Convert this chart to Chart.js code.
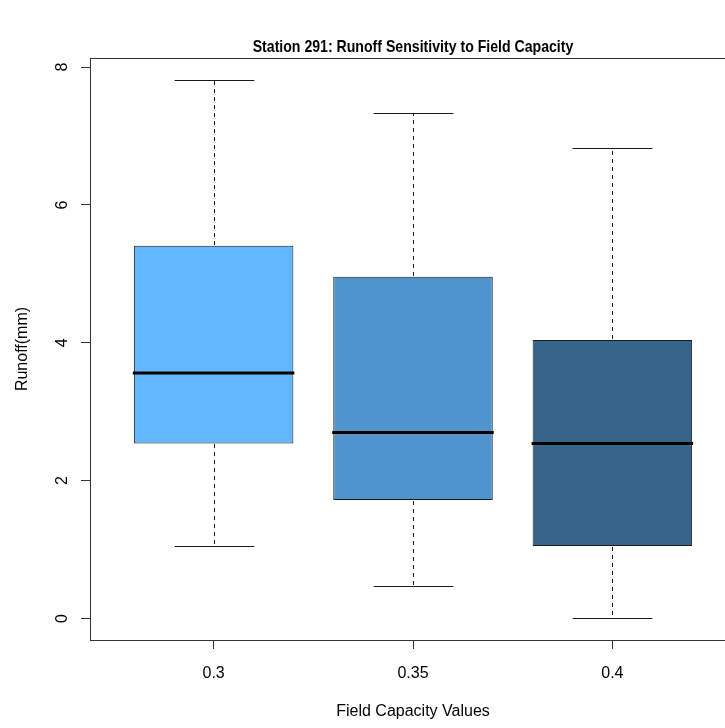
<!DOCTYPE html>
<html>
<head>
<meta charset="utf-8">
<title>Station 291: Runoff Sensitivity to Field Capacity</title>
<script src="https://cdn.jsdelivr.net/npm/chart.js@4.4.1/dist/chart.umd.min.js"></script>
<style>
    html, body { margin: 0; padding: 0; background: #fff; overflow: hidden; }
    #wrap { width: 725px; height: 728px; overflow: hidden; }
    canvas { display: block; }
</style>
</head>
<body>
<div id="wrap"><canvas id="boxChart" width="826" height="728"></canvas></div>
<script>
// Field capacity values on the x axis
const categories = ['0.3', '0.35', '0.4'];

// Box summaries (runoff, mm)
const lowWhisker = [1.05, 0.47, 0.00];
const lowerQuartile = [2.54, 1.72, 1.05];
const medians = [3.56, 2.70, 2.54];
const upperQuartile = [5.41, 4.96, 4.04];
const highWhisker = [7.82, 7.33, 6.82];

const yTicks = [0, 2, 4, 6, 8];
const boxColors = ['#63B8FF', '#4F94CD', '#36648B'];

const chartTitle = 'Station 291: Runoff Sensitivity to Field Capacity';
const FONT = "'Liberation Sans', Arial, sans-serif";

// R style axis extension (4% each side)
const dataMin = Math.min(...lowWhisker);
const dataMax = Math.max(...highWhisker);
const pad = (dataMax - dataMin) * 0.04;

// Whiskers, medians, plot frame and the (narrow bold) title
const boxExtras = {
    id: 'boxExtras',
    afterDatasetsDraw(chart) {
        const { ctx, scales: { x, y } } = chart;
        const bars = chart.getDatasetMeta(0).data;
        ctx.save();
        bars.forEach((bar, i) => {
            const cx = Math.round(bar.x) + 0.5;
            const half = bar.width / 2;
            const cap = half / 2;
            const yHi = Math.round(y.getPixelForValue(highWhisker[i])) + 0.5;
            const yLo = Math.round(y.getPixelForValue(lowWhisker[i])) + 0.5;
            const yQ3 = Math.round(y.getPixelForValue(upperQuartile[i]));
            const yQ1 = Math.round(y.getPixelForValue(lowerQuartile[i]));

            ctx.strokeStyle = '#1a1a1a';
            ctx.lineWidth = 1;
            ctx.setLineDash([4, 4]);
            ctx.beginPath();
            ctx.moveTo(cx, yQ3 - 1);
            ctx.lineTo(cx, yHi);
            ctx.moveTo(cx, yQ1 + 1);
            ctx.lineTo(cx, yLo);
            ctx.stroke();

            ctx.setLineDash([]);
            ctx.beginPath();
            ctx.moveTo(cx - cap, yHi);
            ctx.lineTo(cx + cap, yHi);
            ctx.moveTo(cx - cap, yLo);
            ctx.lineTo(cx + cap, yLo);
            ctx.stroke();

            // median
            const yMed = y.getPixelForValue(medians[i]);
            ctx.strokeStyle = '#000';
            ctx.lineWidth = 3;
            ctx.beginPath();
            ctx.moveTo(bar.x - half - 1, yMed);
            ctx.lineTo(bar.x + half + 1, yMed);
            ctx.stroke();
        });
        ctx.restore();
    },
    afterDraw(chart) {
        const { ctx, chartArea: a } = chart;
        ctx.save();
        ctx.strokeStyle = '#333';
        ctx.lineWidth = 1;
        ctx.strokeRect(Math.round(a.left) + 0.5, Math.round(a.top) + 0.5,
            Math.round(a.right - a.left), Math.round(a.bottom - a.top));

        // title, centred over the plot region and squeezed like the original
        ctx.translate((a.left + a.right) / 2, 47);
        ctx.scale(0.83, 1);
        ctx.font = 'bold 17px ' + FONT;
        ctx.fillStyle = '#000';
        ctx.textAlign = 'center';
        ctx.textBaseline = 'middle';
        ctx.fillText(chartTitle, 0, 0);
        ctx.restore();
    }
};

document.addEventListener('DOMContentLoaded', function () {
    const ctx = document.getElementById('boxChart').getContext('2d');

    new Chart(ctx, {
        type: 'bar',
        data: {
            datasets: [{
                label: 'Runoff',
                data: categories.map((c, i) => ({ x: i + 1, y: [lowerQuartile[i], upperQuartile[i]] })),
                backgroundColor: boxColors,
                borderColor: '#1a1a1a',
                borderWidth: 1,
                borderSkipped: false,
                barPercentage: 0.8,
                categoryPercentage: 1.0
            }]
        },
        options: {
            responsive: false,
            animation: false,
            layout: { padding: { top: 58, left: 0, right: 0, bottom: 0 } },
            plugins: {
                legend: { display: false },
                tooltip: { enabled: false },
                title: { display: false }
            },
            scales: {
                x: {
                    type: 'linear',
                    offset: false,
                    min: 0.38,
                    max: 3.62,
                    afterBuildTicks: axis => { axis.ticks = categories.map((c, i) => ({ value: i + 1 })); },
                    afterFit: axis => { axis.height = 88; },
                    ticks: {
                        callback: v => categories[v - 1],
                        color: '#000',
                        padding: 15,
                        font: { family: FONT, size: 16 }
                    },
                    grid: { offset: false, drawOnChartArea: false, tickLength: 9, color: '#333' },
                    border: { display: false },
                    title: {
                        display: true,
                        text: 'Field Capacity Values',
                        color: '#000',
                        font: { family: FONT, size: 16 },
                        padding: { top: 0, bottom: 7 }
                    }
                },
                y: {
                    type: 'linear',
                    min: dataMin - pad,
                    max: dataMax + pad,
                    afterBuildTicks: axis => { axis.ticks = yTicks.map(v => ({ value: v })); },
                    afterFit: axis => { axis.width = 90; },
                    ticks: {
                        minRotation: 90,
                        maxRotation: 90,
                        crossAlign: 'center',
                        color: '#000',
                        padding: 14,
                        font: { family: FONT, size: 16 }
                    },
                    grid: { drawOnChartArea: false, tickLength: 9, color: '#333' },
                    border: { display: false },
                    title: {
                        display: true,
                        text: 'Runoff(mm)',
                        color: '#000',
                        font: { family: FONT, size: 16 },
                        padding: { top: 13, bottom: 0 }
                    }
                },
                // empty axis that keeps the plot running past the right edge, like the original
                y2: {
                    position: 'right',
                    ticks: { display: false },
                    grid: { display: false },
                    border: { display: false },
                    afterFit: axis => { axis.width = 90; }
                }
            }
        },
        plugins: [boxExtras]
    });
});
</script>
</body>
</html>
